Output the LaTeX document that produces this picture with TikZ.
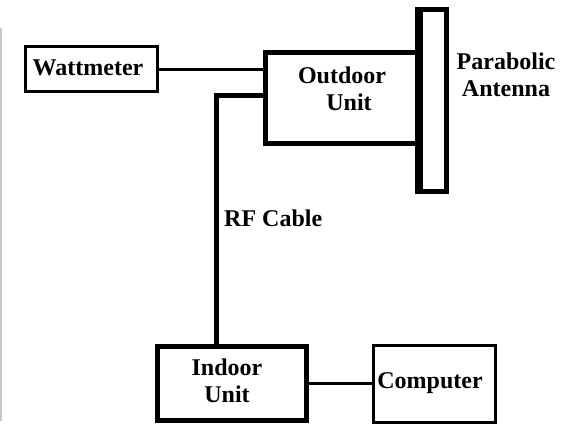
\documentclass[tikz,border=0pt]{standalone}
\usepackage{fontspec}
\setmainfont{Liberation Serif}
\begin{document}
\begin{tikzpicture}[x=1pt,y=-1pt,
  every node/.style={font=\fontsize{24}{27}\selectfont\bfseries, inner sep=0pt, align=center},
  thickbox/.style={draw, line width=5pt},
  thinwire/.style={line width=3pt},
  thickwire/.style={line width=5pt, line join=miter}]
\useasboundingbox (0,0) rectangle (575,426);
\draw[black!22, line width=1.5pt] (1,28) -- (1,421);
% antenna
\node[thickbox, minimum width=27pt, minimum height=182pt] (ant) at (433,100) {};
\draw[line width=8pt] ([xshift=1.5pt]ant.north west) -- ([xshift=1.5pt]ant.south west);
% boxes
\node[draw, line width=3pt, minimum width=132pt, minimum height=45pt] (watt) at (91.5,69) {};
\node (wattt) at (88,68) {Wattmeter};
\node[thickbox, minimum width=152pt, minimum height=91pt] (out) at (341,98) {};
\node (outt) at (342,89) {Outdoor\\\hspace*{14pt}Unit};
\node[thickbox, minimum width=149pt, minimum height=74pt] (in) at (232,383.5) {};
\node (int) at (227,381) {Indoor\\Unit};
\node[draw, line width=3.5pt, minimum width=122pt, minimum height=77pt] (comp) at (434.5,384) {};
\node (compt) at (430,383) {Computer};
% labels
\node[anchor=west] (rf) at (224,218) {RF Cable};
\node (para) at (506,75) {Parabolic\\Antenna};
% connectors
\coordinate (rfbend) at (216,95);
\draw[thinwire] (watt.east) -- (watt.east -| out.west);
\draw[thickwire] (out.west |- rfbend) -- (rfbend) -- (rfbend |- in.north);
\draw[thinwire] (in.east |- 0,383) -- (comp.west |- 0,383);
\end{tikzpicture}
\end{document}
